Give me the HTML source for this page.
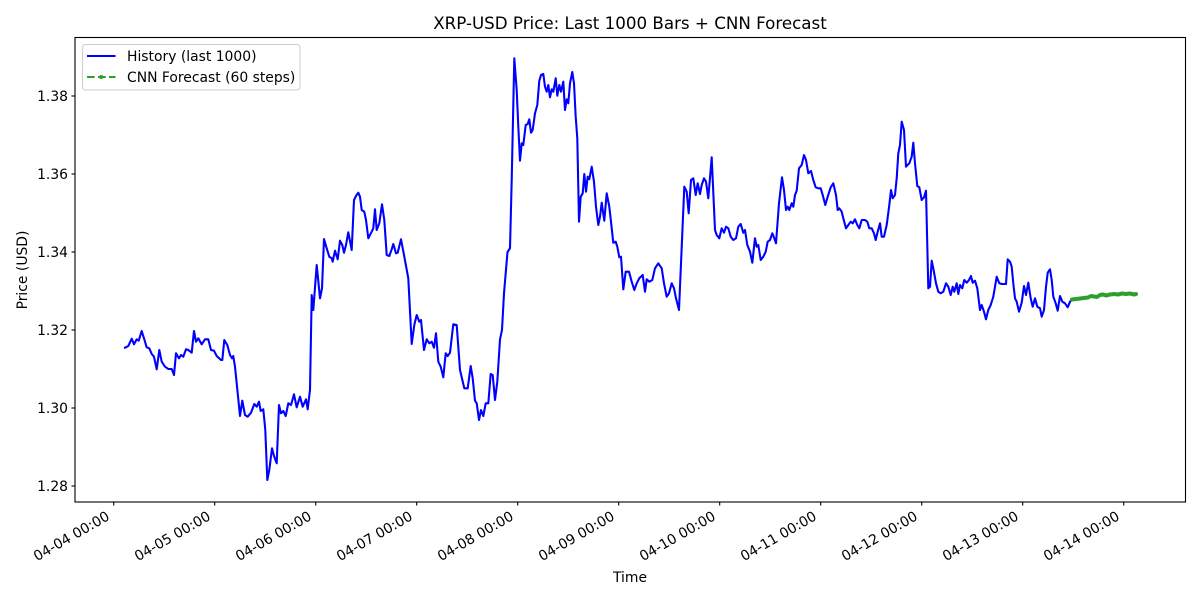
<!DOCTYPE html>
<html>
<head>
<meta charset="utf-8">
<style>
  html, body { margin: 0; padding: 0; background: #ffffff; }
  svg { display: block; }
  text { font-family: "DejaVu Sans", "Liberation Sans", sans-serif; fill: #000; }
</style>
</head>
<body>
<svg width="1200" height="600" viewBox="0 0 1200 600" xmlns="http://www.w3.org/2000/svg">
  <rect x="0" y="0" width="1200" height="600" fill="#ffffff"/>

  <!-- Title -->
  <text x="630" y="29" font-size="16.7" text-anchor="middle">XRP-USD Price: Last 1000 Bars + CNN Forecast</text>

  <!-- History line -->
  <polyline fill="none" stroke="#0000ff" stroke-width="2.08" stroke-linejoin="round" stroke-linecap="square" points="
125,347.7 128.3,346 131.7,338.7 134,344.3 136.7,339.3 138.7,340.7 141.7,331 144.3,339.3 146.7,347.3 149.3,348.3 151.7,354 154,356.7 156.7,369.3 159.3,350 161.7,361.7 165,366.7 168.3,369 171.7,369 174,375 176,353.3 179,358.3 181,355 183.3,356.7 186,349.3 188.3,350 191.7,352.7 194,331 196,341.7 198.3,338.3 201.7,344.3 205,339.3 208.3,339.3 211,350 214,350.7 216.7,356 221,360 222.3,360 224.3,340 227.3,345 230,355 232,358.3 233.3,356 235,366.7 237.7,393.3 240,416 242.3,400.7 245,415 247.7,416.7 251,412.7 254.3,404 256.7,406.7 259,401.7 260.7,411 263.3,409.3 265.3,430 267.3,480 269.3,470 272,448.3 274,456 276.7,463.3 279,405 281,413.3 283.3,411 285.7,416 288.3,403.3 291,405 294,394.3 296.7,407.3 300,396.7 302.7,406.7 306,399.3 307.7,409.3 310,390
311.7,295 313.3,310 316.7,265 320,298.3 322,288.3 324,239 326.7,248.3 329.3,256.7 331.7,258.3 332.7,261.7 335,250.7 337.7,259.3 340,240.7 342.3,245 344,252.7 346,245 348.3,232.3 351.7,250 354,200 356,196 358.3,192.7 360,196.7 361.7,210 364.3,211.7 366,220 368.3,238.3 371.7,231.7 373.3,228.3 375,209.3 376.7,230 379.3,223.3 382,204.3 384.3,220 386.7,255 389.3,256 391.7,249.3 393.3,244 396,253.3 397.7,252.7 401,239.3 404,255 408.3,278.3 411.7,344 414.3,325 416.7,315 419.3,321.7 421,320 424,350 426.7,339.3 429.3,343.3 431.7,341.7 434,347.7 436,333.3 438.3,361.7 440.7,366.7 443.3,377.3 445.7,353.3 447.7,356 450,352.7 453.3,324.3 456.7,325 460,370 464.3,388.3 467.7,388.3 470.7,366 472.7,378.3 475,400.7 476.7,403.3 479,420 481,410 483.3,416 485.7,403.3 488.3,403.3 490.7,374 492.7,375 495,400 497.3,381.7 500,339.3 502,330
504,293.3 507.5,252 510,248.3 511.7,180 514.3,58.3 516.7,90 518.3,126.7 520,160.7 521.7,143.3 523.3,145 525.7,125 527.7,124 529.3,119.3 531,132.7 532.7,130 535,113.3 537.3,105 539.3,80.7 541,75 543.3,74 545,86.7 546.7,91.7 548.3,85 550,97.3 551.7,89.3 553.3,91.7 555.7,78.3 557.3,95.7 559.3,85 561,91.7 563.3,81.7 565,110 566.7,99.3 568.3,103.3 570,83.3 572.3,72 574,83.3 575.7,116.7 577.3,138.3 579,221.7 580.7,196.7 582.7,193.3 584.3,174 586,191.7 587.7,176.7 589.3,179.3 591.7,166.7 594,181.7 596,206.7 598.3,225 600,216.7 601.7,202.7 604.3,220.7 606.7,193.3 609.3,206.7 611,221.7 613.3,242.7 615.7,241.7 617.3,246.7 619.3,257.3 621,256.7 623.3,289.3 625.7,271.7 629,271.7 631.7,281.7 634.3,290 636.7,283.3 639.3,278.3 642.7,275 645,291.7 646.7,279.3 649.3,281.7 652.3,280 655,268.3 658.3,263.3 661.7,268.3 664,283.3 666.7,296.7 669,293.3 671.7,283.3 674,288.3 676,298.3 679,310 684.3,186.7 686.7,191.7 688.7,213.3 691,180 693.3,178.3 695.7,195 697.7,183.3 700,194
701.7,185 704,178.3 706,181.7 708.3,198.3 711.7,157.3 715,230 716.7,235 719.3,238.3 721.7,228.3 724,232.7 726,226.7 728.3,228.3 730.7,236.7 733.3,240 736,238.3 738.3,226.7 740.7,224 743.3,232.7 745,230 747.3,245 750,251.7 752.3,262.7 755,238.3 756.7,246.7 758.3,245 760.7,260 763.3,256.7 765.7,251.7 767.7,241.7 770,240 772.3,233.3 774.3,238.3 776,243.3 779,203.3 782,177.3 784,190 786,210 787.7,206.7 789.3,210 791.7,203.3 793.3,206.7 795,195 796.7,190.7 799,168.3 801.7,165 804,155 806,160 808.3,173.3 811,171 813.3,180 815.7,187.3 818.3,188.3 820.7,188.3 822.7,195 825.3,205 827.7,196.7 830.7,187.3 833.3,183.3 836,195 837.7,210 839.3,208.3 841.7,211.7 843.3,218.3 846,228.3 848.3,225 850.7,221.7 852.7,223.3 855,219.3 857.3,225 859.3,228.3 861.7,220 865,220 867.3,221.7 869.3,228.3 871.7,228.3 874,233.3 875.7,240 877.7,231.7 880,223.3 881.7,236.7 884,236.7 886.7,225 889.3,205 891,190 892.7,198.3 895,195 896.7,178.3 898.3,153.3 900,145 901.7,121.7
904,130 906,166.7 909.3,163.3 911.7,156.7 913.3,142.7 915,163.3 917.3,186 919.3,187.3 921.7,200 924,197.3 926,190.7 928.3,288.3 930,286.7 931.7,260.7 933.3,268.3 936,283.3 938.3,291.7 940.7,293.3 943.3,291.7 946,283.3 948.3,286.7 950.7,295 952.7,286.7 954.3,291.7 956.7,283.3 958.3,294 960,285 962.3,288.3 964.3,280 966.7,282.7 969,280 971,276 972.7,282.7 975,280.7 977.3,288.3 980,310 981.7,305 984,311.7 986,319.3 988.3,310 990.7,305 993.3,296.7 996.7,276.7 999.3,283.3 1001.7,284 1004,284 1006,284 1007.7,259.3 1010,261.7 1011.7,266.7 1013.3,283.3 1015,298.3 1016.7,301.7 1019,311.7 1021.7,302.7 1024,286 1026,295 1028.3,282.7 1030.7,298.3 1032.7,306.7 1035,298.3 1037.3,306.7 1040,308.3 1041.7,316.7 1044,310 1046,286.7 1047.7,272.7 1050,269.3 1051.7,280 1053.3,296.7 1055.7,303.3 1057.7,310.7 1060,296 1062.3,301.7 1065,303.3 1067.7,307.3 1070,301.7 1071.7,300"/>

  <!-- Forecast line -->
  <polyline fill="none" stroke="#2ca02c" stroke-width="4" stroke-linejoin="round" stroke-linecap="round" points="1072,299.5 1076,299 1080,298.5 1084,298 1088,297.5 1091,296 1094,296.5 1097,297 1100,295 1103,294.5 1106,295.5 1110,294.5 1114,294 1118,294.5 1122,293.5 1126,294 1130,293.5 1134,294.5 1136,294"/>

  <!-- Axes frame -->
  <rect x="75" y="37.5" width="1110.5" height="464.5" fill="none" stroke="#000" stroke-width="1.1"/>

  <!-- Y ticks -->
  <g stroke="#000" stroke-width="1.1">
    <line x1="71.5" y1="96" x2="75" y2="96"/>
    <line x1="71.5" y1="174" x2="75" y2="174"/>
    <line x1="71.5" y1="252" x2="75" y2="252"/>
    <line x1="71.5" y1="330" x2="75" y2="330"/>
    <line x1="71.5" y1="408" x2="75" y2="408"/>
    <line x1="71.5" y1="486" x2="75" y2="486"/>
  </g>
  <g font-size="13.9" text-anchor="end">
    <text x="68" y="101">1.38</text>
    <text x="68" y="179">1.36</text>
    <text x="68" y="257">1.34</text>
    <text x="68" y="335">1.32</text>
    <text x="68" y="413">1.30</text>
    <text x="68" y="491">1.28</text>
  </g>

  <!-- X ticks -->
  <g stroke="#000" stroke-width="1.1">
    <line x1="113.7" y1="502" x2="113.7" y2="505.5"/>
    <line x1="214.7" y1="502" x2="214.7" y2="505.5"/>
    <line x1="315.7" y1="502" x2="315.7" y2="505.5"/>
    <line x1="416.7" y1="502" x2="416.7" y2="505.5"/>
    <line x1="517.7" y1="502" x2="517.7" y2="505.5"/>
    <line x1="618.7" y1="502" x2="618.7" y2="505.5"/>
    <line x1="719.7" y1="502" x2="719.7" y2="505.5"/>
    <line x1="820.7" y1="502" x2="820.7" y2="505.5"/>
    <line x1="921.7" y1="502" x2="921.7" y2="505.5"/>
    <line x1="1022.7" y1="502" x2="1022.7" y2="505.5"/>
    <line x1="1123.7" y1="502" x2="1123.7" y2="505.5"/>
  </g>
  <g font-size="13.9" text-anchor="end">
    <text x="110.5" y="519" transform="rotate(-30 110.5 519)">04-04 00:00</text>
    <text x="211.5" y="519" transform="rotate(-30 211.5 519)">04-05 00:00</text>
    <text x="312.5" y="519" transform="rotate(-30 312.5 519)">04-06 00:00</text>
    <text x="413.5" y="519" transform="rotate(-30 413.5 519)">04-07 00:00</text>
    <text x="514.5" y="519" transform="rotate(-30 514.5 519)">04-08 00:00</text>
    <text x="615.5" y="519" transform="rotate(-30 615.5 519)">04-09 00:00</text>
    <text x="716.5" y="519" transform="rotate(-30 716.5 519)">04-10 00:00</text>
    <text x="817.5" y="519" transform="rotate(-30 817.5 519)">04-11 00:00</text>
    <text x="918.5" y="519" transform="rotate(-30 918.5 519)">04-12 00:00</text>
    <text x="1019.5" y="519" transform="rotate(-30 1019.5 519)">04-13 00:00</text>
    <text x="1120.5" y="519" transform="rotate(-30 1120.5 519)">04-14 00:00</text>
  </g>

  <!-- Axis labels -->
  <text x="630" y="582" font-size="13.9" text-anchor="middle">Time</text>
  <text x="27" y="270" font-size="13.9" text-anchor="middle" transform="rotate(-90 27 270)">Price (USD)</text>

  <!-- Legend -->
  <rect x="82.5" y="44.5" width="217.5" height="45.5" rx="3" ry="3" fill="#ffffff" fill-opacity="0.8" stroke="#cccccc" stroke-width="1"/>
  <line x1="87" y1="56" x2="115.5" y2="56" stroke="#0000ff" stroke-width="2.08"/>
  <line x1="87" y1="77" x2="115.5" y2="77" stroke="#2ca02c" stroke-width="2.08" stroke-dasharray="7.7,3.3"/>
  <circle cx="101.2" cy="77" r="2" fill="#2ca02c"/>
  <text x="127" y="61" font-size="13.9">History (last 1000)</text>
  <text x="127" y="82" font-size="13.9">CNN Forecast (60 steps)</text>
</svg>
</body>
</html>
